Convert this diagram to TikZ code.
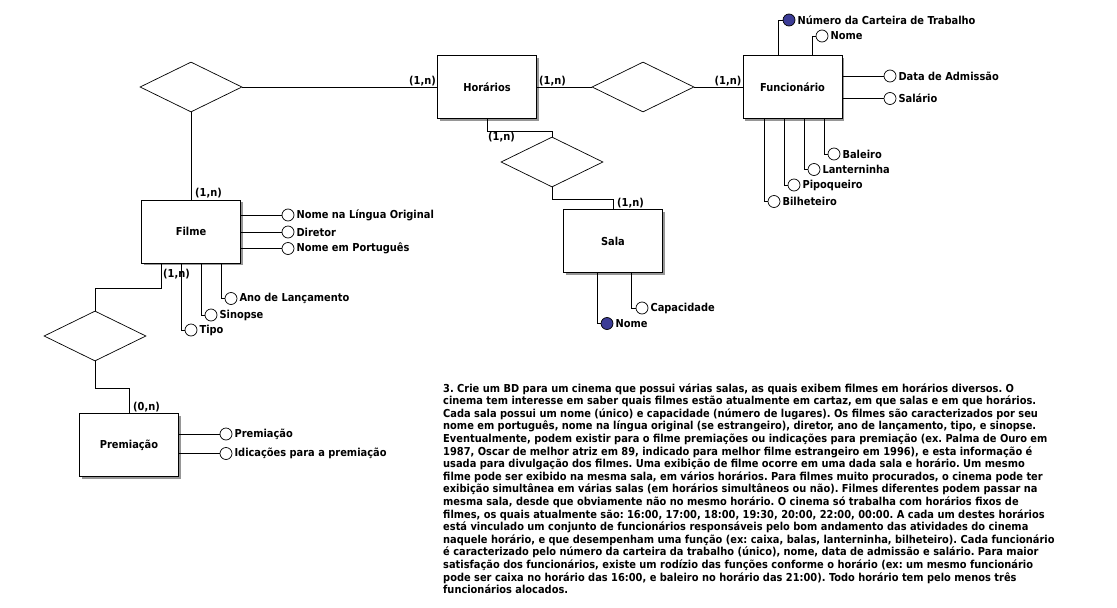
\documentclass[tikz,border=0pt]{standalone}
\usepackage{fontspec}
\setmainfont{DejaVu Sans Condensed}
\usetikzlibrary{shapes.geometric,shadows}
\definecolor{keyblue}{RGB}{60,60,150}
\definecolor{shadowgray}{RGB}{150,150,150}
\frenchspacing
\begin{document}
\begin{tikzpicture}[x=1pt,y=-1pt,
  every node/.style={font=\bfseries\fontsize{10.95}{12}\selectfont},
  ent/.style={draw, line width=1pt, fill=white, minimum width=99pt, minimum height=63pt, inner sep=0pt,
    drop shadow={shadow xshift=2pt, shadow yshift=-2pt, fill=shadowgray, opacity=1}},
  rel/.style={draw, diamond, line width=0.7pt, minimum width=102pt, minimum height=50pt, inner sep=0pt},
  attr/.style={circle, draw, line width=0.7pt, fill=white, minimum size=12pt, inner sep=0pt},
  keyattr/.style={attr, fill=keyblue},
  atxt/.style={inner sep=1pt, label distance=1pt},
  card/.style={inner sep=1pt},
  conn/.style={line width=0.8pt},
  ptxt/.style={anchor=base west, inner sep=0pt}
]
\useasboundingbox (0,0) rectangle (1117,608);

% entities
\node[ent] (horarios) at (487,87) {Horários};
\node[ent] (func) at (792.5,87) {Funcionário};
\node[ent] (filme) at (191,231.5) {Filme};
\node[ent] (sala) at (613,241) {Sala};
\node[ent] (prem) at (129,445) {Premiação};

% relationships
\node[rel] (r1) at (191,87) {};
\node[rel] (r2) at (643,87) {};
\node[rel] (r3) at (552,162) {};
\node[rel] (r4) at (95,336) {};

% connectors
\draw[conn] (r1.east) -- (horarios.west);
\node[card, anchor=south east] at (horarios.west) {(1,n)};
\draw[conn] (r1.south) -- (filme.north);
\node[card, anchor=south west] at ([xshift=3pt]filme.north) {(1,n)};
\draw[conn] (horarios.east) -- (r2.west);
\node[card, anchor=south west] at ([xshift=1pt]horarios.east) {(1,n)};
\draw[conn] (r2.east) -- (func.west);
\node[card, anchor=south east] at (func.west) {(1,n)};
\draw[conn] (horarios.south) -- ++(0,12) -| (r3.north);
\node[card, anchor=north west] at ([yshift=-12pt]horarios.south) {(1,n)};
\draw[conn] (r3.south) -- ++(0,12) -| (sala.north);
\node[card, anchor=south west] at ([xshift=3pt]sala.north) {(1,n)};
\draw[conn] ([xshift=-30pt]filme.south) -- ++(0,25) -| (r4.north);
\node[card, anchor=north west] at ([xshift=-29pt,yshift=-4pt]filme.south) {(1,n)};
\draw[conn] (r4.south) -- ++(0,27) -| (prem.north);
\node[card, anchor=south west] at ([xshift=3pt]prem.north) {(0,n)};

% Filme attributes
\node[attr, label={[atxt]right:Nome na Língua Original}] (nlo) at (288,215) {};
\node[attr, label={[atxt]right:Diretor}] (dir) at (288,232) {};
\node[attr, label={[atxt]right:Nome em Português}] (npt) at (288,248.5) {};
\draw[conn] (nlo.west -| filme.east) -- (nlo.west);
\draw[conn] (dir.west -| filme.east) -- (dir.west);
\draw[conn] (npt.west -| filme.east) -- (npt.west);
\node[attr, label={[atxt]right:Ano de Lançamento}] (ano) at (231,298.5) {};
\node[attr, label={[atxt]right:Sinopse}] (sin) at (211,315) {};
\node[attr, label={[atxt]right:Tipo}] (tipo) at (191,330) {};
\draw[conn] ([xshift=-10pt]ano.center |- filme.south) |- (ano.west);
\draw[conn] ([xshift=-10pt]sin.center |- filme.south) |- (sin.west);
\draw[conn] ([xshift=-10pt]tipo.center |- filme.south) |- (tipo.west);

% Premiacao attributes
\node[attr, label={[atxt]right:Premiação}] (pa) at (226,434) {};
\node[attr, label={[atxt]right:Idicações para a premiação}] (pb) at (226,453.5) {};
\draw[conn] (pa.west -| prem.east) -- (pa.west);
\draw[conn] (pb.west -| prem.east) -- (pb.west);

% Sala attributes
\node[keyattr, label={[atxt]right:Nome}] (snome) at (607,323.5) {};
\node[attr, label={[atxt]right:Capacidade}] (scap) at (642,308) {};
\draw[conn] ([xshift=-10pt]snome.center |- sala.south) |- (snome.west);
\draw[conn] ([xshift=-11pt]scap.center |- sala.south) |- (scap.west);

% Funcionario attributes
\node[keyattr, label={[atxt]right:Número da Carteira de Trabalho}] (nct) at (789,20) {};
\node[attr, label={[atxt]right:Nome}] (fnome) at (822,36) {};
\draw[conn] ([xshift=-11pt]nct.center |- func.north) |- (nct.west);
\draw[conn] ([xshift=-10pt]fnome.center |- func.north) |- (fnome.west);
\node[attr, label={[atxt]right:Data de Admissão}] (fdata) at (890,76) {};
\node[attr, label={[atxt]right:Salário}] (fsal) at (890,98.5) {};
\draw[conn] (fdata.west -| func.east) -- (fdata.west);
\draw[conn] (fsal.west -| func.east) -- (fsal.west);
\node[attr, label={[atxt]right:Baleiro}] (fbal) at (834,154) {};
\node[attr, label={[atxt]right:Lanterninha}] (flan) at (814,169.5) {};
\node[attr, label={[atxt]right:Pipoqueiro}] (fpip) at (794,185) {};
\node[attr, label={[atxt]right:Bilheteiro}] (fbil) at (774,201.5) {};
\draw[conn] ([xshift=-10pt]fbal.center |- func.south) |- (fbal.west);
\draw[conn] ([xshift=-10pt]flan.center |- func.south) |- (flan.west);
\draw[conn] ([xshift=-10pt]fpip.center |- func.south) |- (fpip.west);
\draw[conn] ([xshift=-10pt]fbil.center |- func.south) |- (fbil.west);

% paragraph
\node[ptxt] (p1) at (443,392.0) {3. Crie um BD para um cinema que possui várias salas, as quais exibem filmes em horários diversos. O};
\node[ptxt] (p2) at (443,404.6) {cinema tem interesse em saber quais filmes estão atualmente em cartaz, em que salas e em que horários.};
\node[ptxt] (p3) at (443,417.2) {Cada sala possui um nome (único) e capacidade (número de lugares). Os filmes são caracterizados por seu};
\node[ptxt] (p4) at (443,429.8) {nome em português, nome na língua original (se estrangeiro), diretor, ano de lançamento, tipo, e sinopse.};
\node[ptxt] (p5) at (443,442.4) {Eventualmente, podem existir para o filme premiações ou indicações para premiação (ex. Palma de Ouro em};
\node[ptxt] (p6) at (443,455.0) {1987, Oscar de melhor atriz em 89, indicado para melhor filme estrangeiro em 1996), e esta informação é};
\node[ptxt] (p7) at (443,467.6) {usada para divulgação dos filmes. Uma exibição de filme ocorre em uma dada sala e horário. Um mesmo};
\node[ptxt] (p8) at (443,480.2) {filme pode ser exibido na mesma sala, em vários horários. Para filmes muito procurados, o cinema pode ter};
\node[ptxt] (p9) at (443,492.8) {exibição simultânea em várias salas (em horários simultâneos ou não). Filmes diferentes podem passar na};
\node[ptxt] (p10) at (443,505.4) {mesma sala, desde que obviamente não no mesmo horário. O cinema só trabalha com horários fixos de};
\node[ptxt] (p11) at (443,518.0) {filmes, os quais atualmente são: 16:00, 17:00, 18:00, 19:30, 20:00, 22:00, 00:00. A cada um destes horários};
\node[ptxt] (p12) at (443,530.6) {está vinculado um conjunto de funcionários responsáveis pelo bom andamento das atividades do cinema};
\node[ptxt] (p13) at (443,543.2) {naquele horário, e que desempenham uma função (ex: caixa, balas, lanterninha, bilheteiro). Cada funcionário};
\node[ptxt] (p14) at (443,555.8) {é caracterizado pelo número da carteira da trabalho (único), nome, data de admissão e salário. Para maior};
\node[ptxt] (p15) at (443,568.4) {satisfação dos funcionários, existe um rodízio das funções conforme o horário (ex: um mesmo funcionário};
\node[ptxt] (p16) at (443,581.0) {pode ser caixa no horário das 16:00, e baleiro no horário das 21:00). Todo horário tem pelo menos três};
\node[ptxt] (p17) at (443,593.6) {funcionários alocados.};
\end{tikzpicture}
\end{document}
